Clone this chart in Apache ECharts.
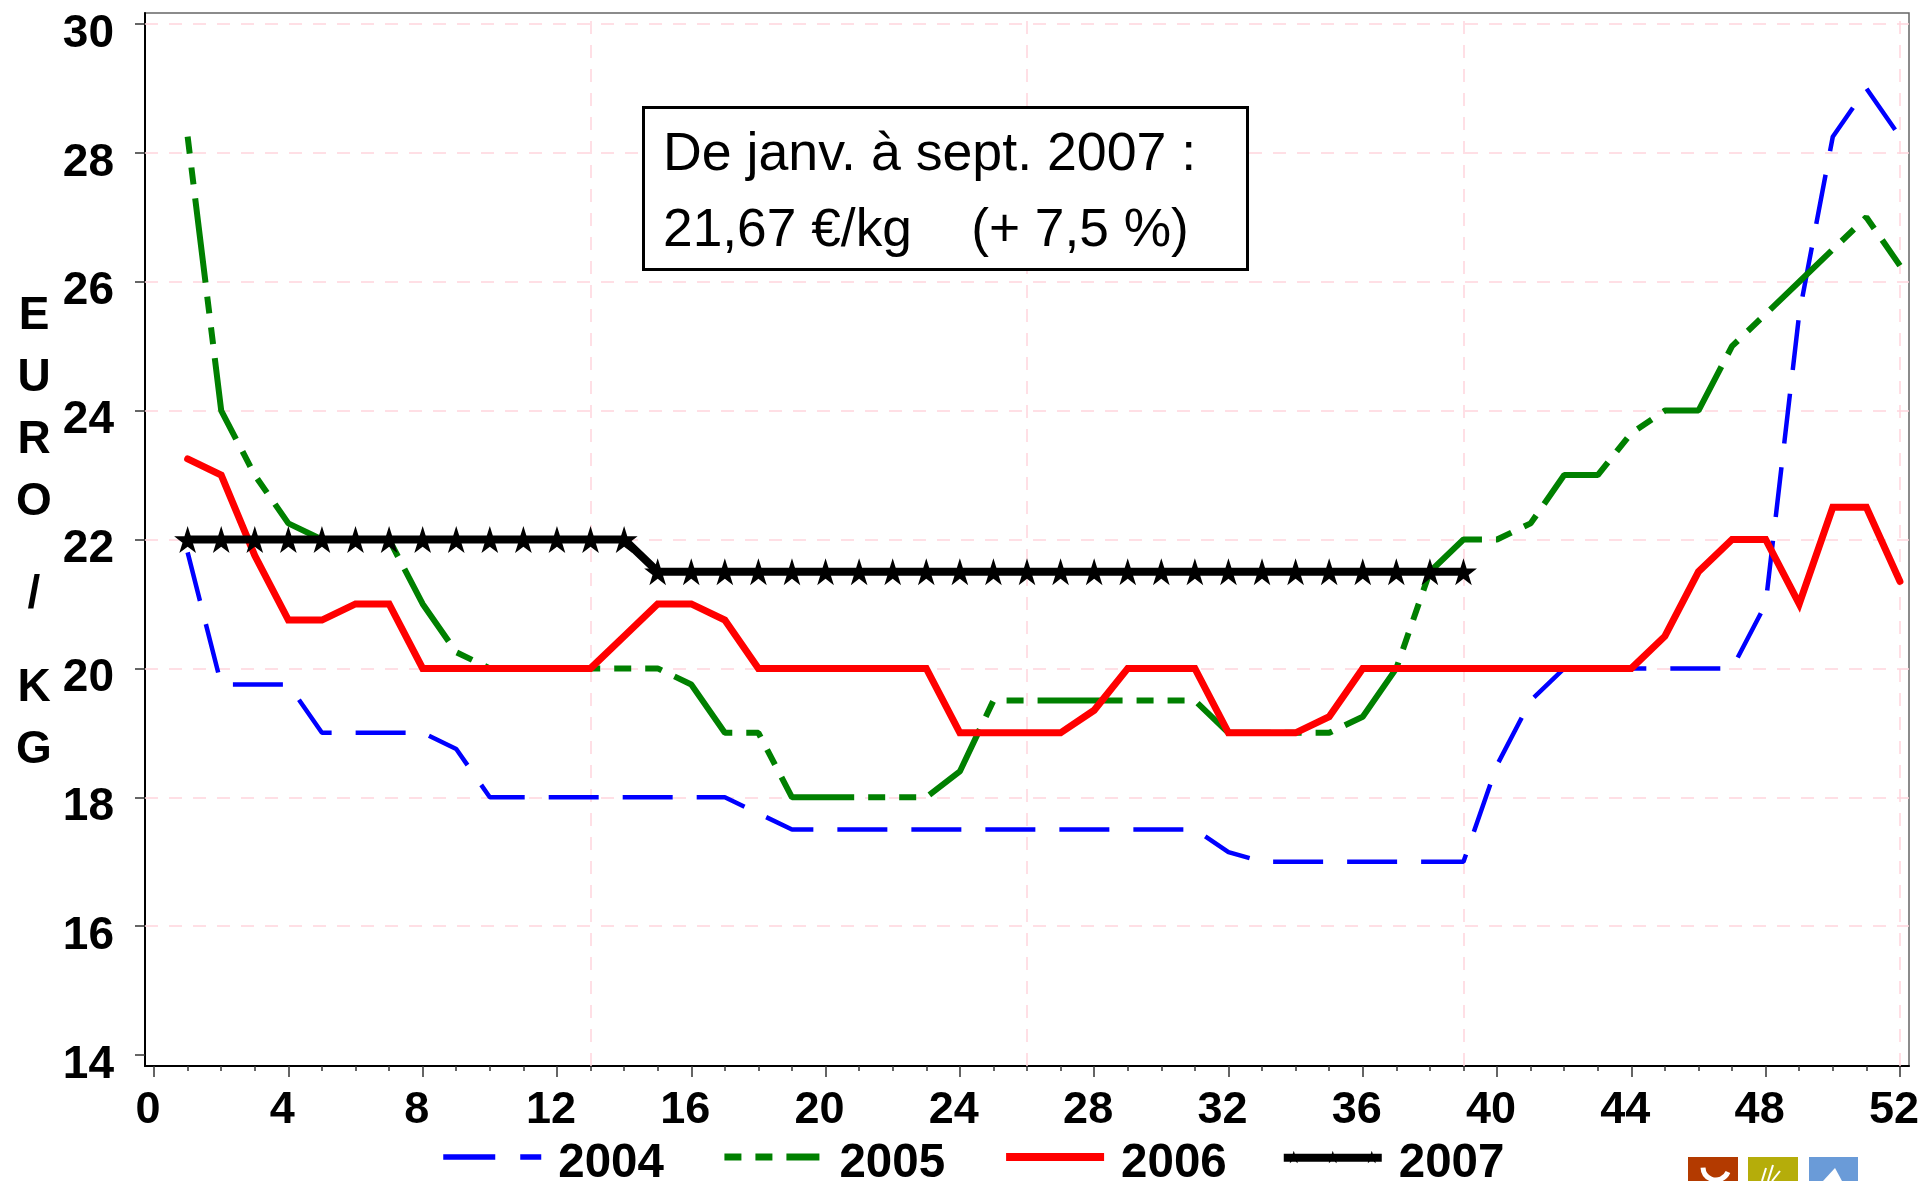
<!DOCTYPE html>
<html><head><meta charset="utf-8">
<style>html,body{margin:0;padding:0;background:#fff}#c{width:1924px;height:1181px}</style>
<script src="https://cdn.jsdelivr.net/npm/echarts@6/dist/echarts.min.js"></script>
</head><body><div id="c"></div>
<script>
const weeks = [1,2,3,4,5,6,7,8,9,10,11,12,13,14,15,16,17,18,19,20,21,22,23,24,25,26,27,28,29,30,31,32,33,34,35,36,37,38,39,40,41,42,43,44,45,46,47,48,49,50,51,52];
const values2004 = [21.8,19.75,19.75,19.75,19,19,19,19,18.75,18,18,18,18,18,18,18,18,17.75,17.5,17.5,17.5,17.5,17.5,17.5,17.5,17.5,17.5,17.5,17.5,17.5,17.5,17.15,17,17,17,17,17,17,17,18.5,19.5,20,20,20,20,20,20,21,25.5,28.25,29,28.25];
const values2005 = [28.25,24,23,22.25,22,22,22,21,20.25,20,20,20,20,20,20,19.75,19,19,18,18,18,18,18,18.4,19.5,19.5,19.5,19.5,19.5,19.5,19.5,19,19,19,19,19.25,20,21.5,22,22,22.25,23,23,23.65,24,24,25,25.5,26,26.5,27,26.25];
const values2006 = [23.25,23,21.75,20.75,20.75,21,21,20,20,20,20,20,20,20.5,21,21,20.75,20,20,20,20,20,20,19,19,19,19,19.35,20,20,20,19,19,19,19.25,20,20,20,20,20,20,20,20,20,20.5,21.5,22,22,21,22.5,22.5,21.35];
const values2007 = [22,22,22,22,22,22,22,22,22,22,22,22,22,22,21.5,21.5,21.5,21.5,21.5,21.5,21.5,21.5,21.5,21.5,21.5,21.5,21.5,21.5,21.5,21.5,21.5,21.5,21.5,21.5,21.5,21.5,21.5,21.5,21.5];
const xMajor = [0,4,8,12,16,20,24,28,32,36,40,44,48,52];
const xMinor = [0,1,2,3,4,5,6,7,8,9,10,11,12,13,14,15,16,17,18,19,20,21,22,23,24,25,26,27,28,29,30,31,32,33,34,35,36,37,38,39,40,41,42,43,44,45,46,47,48,49,50,51,52];
const xGrid = [13,26,39,52];
const yTicks = [14,16,18,20,22,24,26,28,30];
const yGrid = [16,18,20,22,24,26,28,30];
const yTitle = ['E','U','R','O','/','K','G'];
const yTitleY = [316,378,440,502,595,688,750];
const note = ['De janv. à sept. 2007 :','21,67 €/kg    (+ 7,5 %)'];

const FONT = '"Liberation Sans", Arial, sans-serif';
const star = (cx,cy,r)=>{let s='';for(let i=0;i<10;i++){const a=-Math.PI/2+i*Math.PI/5,q=i%2?r*0.382:r;s+=(i?'L':'M')+(cx+q*Math.cos(a)).toFixed(2)+' '+(cy+q*Math.sin(a)).toFixed(2)+' ';}return s+'Z';};
const starPath = 'path://'+star(50,50,50);
const legendIcon2007 = 'path://M0 3H98V11H0Z '+star(10,7,7)+' '+star(49,7,7)+' '+star(88,7,7);
const pts = a => a.map((v,i)=>[weeks[i],v]);
const gridLine = {type:[13,11],color:'#ffd5dd',width:1.5};
const hiddenMark = {opacity:0,borderWidth:0};
const opt = {
  animation:false,
  backgroundColor:'#fff',
  grid:{left:145,right:15,top:13,bottom:115,show:true,borderColor:'#666',borderWidth:1.5,containLabel:false},
  xAxis:[
    {type:'value',min:-0.27,max:52.27,position:'bottom',
     axisLine:{show:true,onZero:false,lineStyle:{color:'#000',width:2}},
     axisTick:{show:true,length:11,customValues:xMajor,lineStyle:{color:'#333',width:1.5}},
     axisLabel:{show:true,customValues:xMajor,margin:22,padding:[0,12,0,0],fontFamily:FONT,fontWeight:'bold',fontSize:45,color:'#000',showMinLabel:true,showMaxLabel:true,hideOverlap:false},
     splitLine:{show:false}},
    {type:'value',min:-0.27,max:52.27,position:'bottom',
     axisLine:{show:false},
     axisTick:{show:true,length:5,customValues:xMinor,lineStyle:{color:'#333',width:1.5}},
     axisLabel:{show:false},splitLine:{show:false}}
  ],
  yAxis:{type:'value',min:13.83,max:30.17,
     axisLine:{show:true,onZero:false,lineStyle:{color:'#000',width:2}},
     axisTick:{show:true,length:10,customValues:yTicks,lineStyle:{color:'#333',width:1.5}},
     axisLabel:{show:true,customValues:yTicks,margin:31,verticalAlign:'top',lineHeight:20,fontFamily:FONT,fontWeight:'bold',fontSize:46,color:'#000'},
     splitLine:{show:false}},
  legend:{left:440.5,top:1140,padding:0,itemWidth:98,itemHeight:14,itemGap:57,
    formatter:'{t|{name}}',
    textStyle:{fontFamily:FONT,fontWeight:'bold',fontSize:47.5,color:'#000',padding:[0,0,0,12],
      rich:{t:{fontFamily:FONT,fontWeight:'bold',fontSize:47.5,color:'#000',padding:[14,0,0,0]}}},
    data:[
      {name:'2004',itemStyle:hiddenMark,lineStyle:{type:[52,25],width:5.5,cap:'butt'}},
      {name:'2005',itemStyle:hiddenMark,lineStyle:{type:[33,14,17,14,17,14],dashOffset:47,width:7,cap:'butt'}},
      {name:'2006',itemStyle:hiddenMark,lineStyle:{width:8,cap:'butt'}},
      {name:'2007',icon:legendIcon2007,itemStyle:{color:'#000'}}
    ]},
  series:[
    {name:'2004',type:'line',data:pts(values2004),smooth:false,symbol:'none',z:3,
     lineStyle:{color:'#0000ff',width:4.5,type:[50,24],cap:'butt'},itemStyle:{color:'#0000ff'},
     markLine:{silent:true,symbol:'none',animation:false,label:{show:false},z:1,lineStyle:gridLine,
       data:xGrid.map(v=>({xAxis:v})).concat(yGrid.map(v=>({yAxis:v})))}},
    {name:'2005',type:'line',data:pts(values2005),symbol:'none',z:4,
     lineStyle:{color:'#008000',width:6,type:[85,14,17,14,17,14],dashOffset:99,cap:'butt'},itemStyle:{color:'#008000'}},
    {name:'2006',type:'line',data:pts(values2006),symbol:'none',z:5,
     lineStyle:{color:'#ff0000',width:7,cap:'round',join:'miter'},itemStyle:{color:'#ff0000'}},
    {name:'2007',type:'line',data:pts(values2007),symbol:starPath,symbolSize:27,showAllSymbol:true,z:6,
     lineStyle:{color:'#000',width:8},itemStyle:{color:'#000'}}
  ],
  graphic:[
    ...yTitle.map((t,i)=>({type:'text',x:34,y:yTitleY[i],style:{text:t,fontFamily:FONT,fontWeight:'bold',fontSize:46,fill:'#000',align:'center',verticalAlign:'middle'}})),
    {type:'rect',shape:{x:643.5,y:107.5,width:604,height:162},style:{fill:'#fff',stroke:'#000',lineWidth:3},z:10},
    {type:'text',x:663,y:155,z:11,style:{text:note[0],fontFamily:FONT,fontSize:53.7,fill:'#000',verticalAlign:'middle'}},
    {type:'text',x:663,y:231,z:11,style:{text:note[1],fontFamily:FONT,fontSize:53.3,fill:'#000',verticalAlign:'middle'}},
    {type:'rect',shape:{x:1688,y:1157,width:50,height:24},style:{fill:'#b33a00'}},
    {type:'arc',shape:{cx:1716,cy:1167,r:13,startAngle:0.4,endAngle:3.1},style:{fill:'none',stroke:'#fff',lineWidth:5}},
    {type:'rect',shape:{x:1748,y:1157,width:50,height:24},style:{fill:'#b5ad0a'}},
    {type:'polyline',shape:{points:[[1762,1181],[1766,1168]]},style:{stroke:'#fff',lineWidth:2,fill:'none'}},
    {type:'polyline',shape:{points:[[1768,1181],[1773,1165]]},style:{stroke:'#fff',lineWidth:2,fill:'none'}},
    {type:'polyline',shape:{points:[[1772,1181],[1780,1171]]},style:{stroke:'#fff',lineWidth:2,fill:'none'}},
    {type:'rect',shape:{x:1809,y:1157,width:49,height:24},style:{fill:'#6a9bd8'}},
    {type:'polygon',shape:{points:[[1835,1168],[1823,1181],[1842,1181]]},style:{fill:'#fff'}}
  ]
};
echarts.init(document.getElementById('c'),null,{renderer:'canvas'}).setOption(opt);
</script></body></html>
